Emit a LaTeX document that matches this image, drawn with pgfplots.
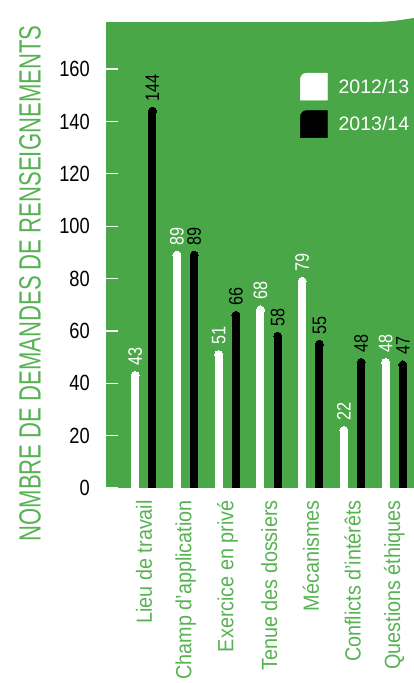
\documentclass[border=0pt]{standalone}
\usepackage{fontspec}
\setmainfont{Liberation Sans}[FakeStretch=0.9]
\newfontfamily\titlefont{Liberation Sans}[FakeStretch=0.72]
\newfontfamily\numfont{Liberation Sans}[FakeStretch=0.83]
\newfontfamily\legfont{Liberation Sans}
\usepackage{pgfplots}
\pgfplotsset{compat=1.18}
\definecolor{panel}{RGB}{74,167,72}
\definecolor{lbl}{RGB}{88,178,84}

\begin{document}
\begin{tikzpicture}
\path[use as bounding box] (-106pt,-195pt) rectangle (308pt,488pt);
\begin{axis}[
  name=ax, at={(0pt,0pt)}, anchor=south west,
  scale only axis, width=308pt, height=466pt,
  xmin=-0.91, xmax=6.47, ymin=0, ymax=178,
  axis line style={draw=none},
  axis background/.style={fill=panel},
  xtick={0,...,6},
  xticklabels={Lieu de travail,Champ d'application,Exercice en privé,Tenue des dossiers,Mécanismes,Conflicts d'intérêts,Questions éthiques},
  x tick style={draw=none},
  xticklabel style={rotate=90, anchor=east, inner sep=0pt, text=lbl, font=\fontsize{22}{24}\selectfont},
  xticklabel shift=12pt,
  ytick={0,20,...,160},
  ytick pos=left,
  y tick style={white, line width=1.3pt},
  major tick length=12pt,
  yticklabel style={anchor=east, inner sep=0pt, font=\numfont\fontsize{22}{24}\selectfont},
  yticklabel shift=16pt,
  /pgf/number format/assume math mode=true,
  nodes near coords,
  nodes near coords style={rotate=90, anchor=west, inner xsep=10pt, inner ysep=0pt, font=\numfont\fontsize{19.5}{20}\selectfont},
  legend style={at={(rel axis cs:0.63,0.891)}, anchor=north west, draw=none, fill=none,
    text=white, font=\legfont\fontsize{19.5}{20}\selectfont, row sep=10pt, inner sep=0pt,
    nodes={inner sep=0pt},
    /tikz/every odd column/.append style={column sep=11pt}},
  legend cell align=left,
]
\addplot[forget plot, ycomb, white, line width=8pt, xshift=-8.75pt,
  mark=*, mark size=4pt, mark options={line width=0pt, draw=none, fill=white}] coordinates {
  (0,43) (1,89) (2,51) (3,68) (4,79) (5,22) (6,48)
};
\addplot[forget plot, ycomb, black, line width=8pt, xshift=8.5pt,
  mark=*, mark size=4pt, mark options={line width=0pt, draw=none, fill=black}] coordinates {
  (0,144) (1,89) (2,66) (3,58) (4,55) (5,48) (6,47)
};
\addlegendimage{legend image code/.code={\fill[white] (0pt,-13.5pt) -- (0pt,7.5pt) arc[start angle=180,end angle=90,radius=6pt] -- (27pt,13.5pt) -- (27pt,-13.5pt) -- cycle;}}
\addlegendentry{2012/13}
\addlegendimage{legend image code/.code={\fill[black] (0pt,-13.5pt) -- (0pt,7.5pt) arc[start angle=180,end angle=90,radius=6pt] -- (27pt,13.5pt) -- (27pt,-13.5pt) -- cycle;}}
\addlegendentry{2013/14}
\end{axis}
\fill[panel] (265pt,466pt) .. controls (288pt,466pt) and (300pt,469pt) .. (308pt,470pt) -- (308pt,466pt) -- cycle;
\node[rotate=90, text=lbl, font=\titlefont\fontsize{30.7}{32}\selectfont, inner sep=0pt] at (-76pt,204.5pt) {NOMBRE DE DEMANDES DE RENSEIGNEMENTS};
\end{tikzpicture}
\end{document}
